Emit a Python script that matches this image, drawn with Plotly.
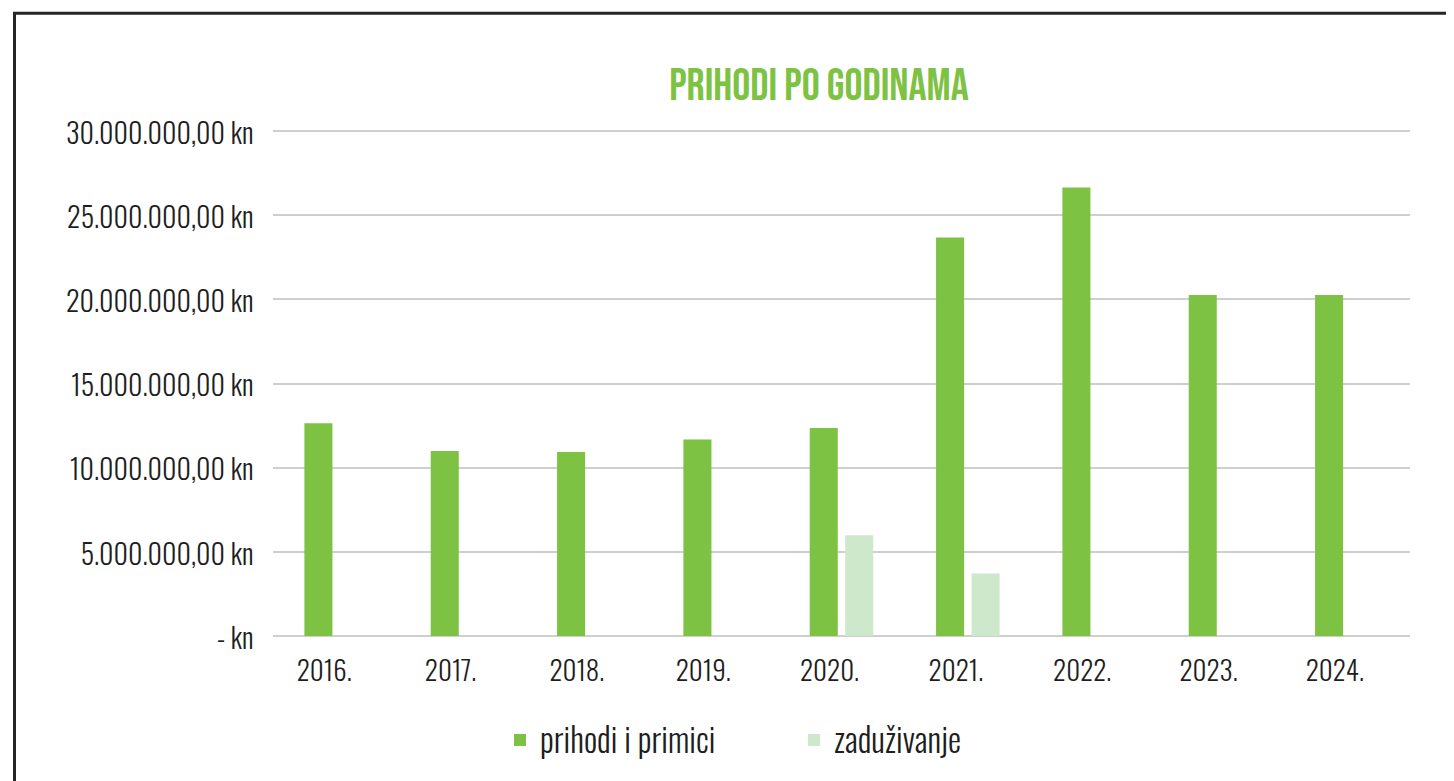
import plotly.graph_objects as go

years = ["2016.", "2017.", "2018.", "2019.", "2020.", "2021.", "2022.", "2023.", "2024."]
prihodi = [12640000, 10990000, 10930000, 11680000, 12360000, 23680000, 26650000, 20260000, 20260000]
zaduzivanje = [None, None, None, None, 5980000, 3720000, None, None, None]
y_tickvals = [0, 5000000, 10000000, 15000000, 20000000, 25000000, 30000000]
y_ticktext = ["- kn", "5.000.000,00 kn", "10.000.000,00 kn", "15.000.000,00 kn",
              "20.000.000,00 kn", "25.000.000,00 kn", "30.000.000,00 kn"]

FONT = "Oswald, Roboto Condensed, sans-serif"
TITLE_FONT = "Bebas Neue, Oswald, sans-serif"
GREEN = "#7DC242"
LIGHT = "#CDE8CA"
TXT = "#1e1e1e"
GRID = "#CFCFCF"

fig = go.Figure()
fig.add_trace(go.Bar(name="prihodi i primici", x=years, y=prihodi,
                     marker=dict(color=GREEN, line=dict(width=0))))
fig.add_trace(go.Bar(name="zaduživanje", x=years, y=zaduzivanje,
                     marker=dict(color=LIGHT, line=dict(width=0))))

OFF = 8  # page body margin
W, H = 1446, 773
L, R, T, B = 265, 44, 118, 145
pw, ph = W - L - R, H - T - B
PL, PB = L + OFF, T + OFF + ph  # plot left / bottom in page pixels

fig.update_layout(
    width=W, height=H,
    margin=dict(l=L, r=R, t=T, b=B),
    paper_bgcolor="white", plot_bgcolor="white",
    barmode="group", bargap=0.438, bargroupgap=0.21,
    font=dict(family=FONT, color=TXT, size=30, weight=300),
    title=dict(text="PRIHODI PO GODINAMA", x=(819 - PL) / pw, xref="paper",
               xanchor="center", y=1 - (84 - OFF) / H, yref="container", yanchor="middle",
               font=dict(family=TITLE_FONT, size=45, color=GREEN)),
    showlegend=True,
    legend=dict(orientation="h", x=(500 - PL) / pw, xanchor="left",
                y=(PB - 740) / ph, yanchor="middle",
                font=dict(family=FONT, size=33, color=TXT, weight=300),
                entrywidth=249, entrywidthmode="pixels", bgcolor="rgba(0,0,0,0)"),
    xaxis=dict(showgrid=False, showline=False, zeroline=False, ticks="outside",
               ticklen=12, tickcolor="rgba(0,0,0,0)", ticklabelshift=-12,
               tickfont=dict(family=FONT, size=27, color=TXT, weight=300)),
    yaxis=dict(range=[0, 30300000], tickvals=y_tickvals, ticktext=y_ticktext,
               showgrid=True, gridcolor=GRID, gridwidth=2, zeroline=True,
               zerolinecolor=GRID, zerolinewidth=2, showline=False, ticks="outside",
               ticklen=13, tickcolor="rgba(0,0,0,0)", ticklabelshift=3,
               tickfont=dict(family=FONT, size=28, color=TXT, weight=300)),
)

# outer frame of the graphic (extends beyond right and bottom edges)
fig.add_shape(type="rect", xref="paper", yref="paper",
              x0=(14.5 - PL) / pw, x1=(1520 - PL) / pw,
              y0=(PB - 840) / ph, y1=(PB - 13.3) / ph,
              line=dict(color="#262626", width=3), fillcolor="rgba(0,0,0,0)", layer="below")

fig.write_html("out.html")
